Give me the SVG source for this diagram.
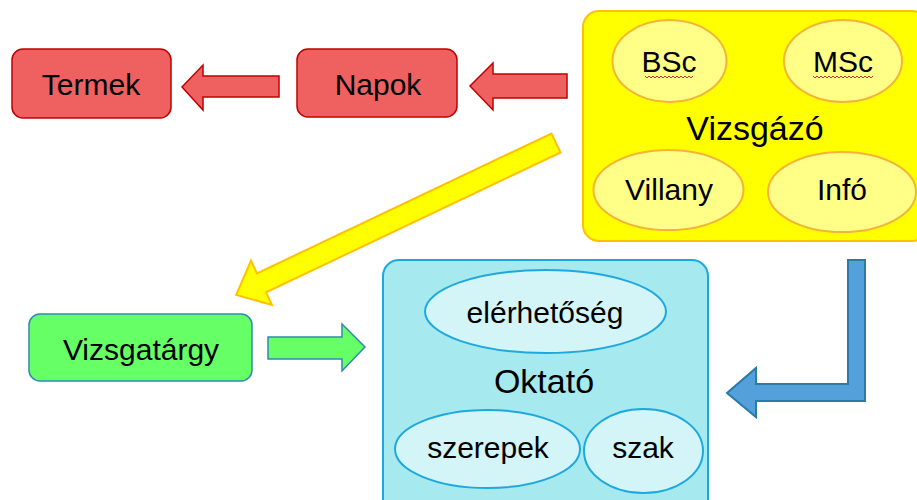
<svg xmlns="http://www.w3.org/2000/svg" width="917" height="500" viewBox="0 0 917 500">
<style>
text{font-family:"Liberation Sans",Arial,sans-serif;fill:#000;text-anchor:middle}
.lbl{font-size:30px}
.ttl{font-size:34px}
.red{fill:#EF6161;stroke:#C00000;stroke-width:1.5}
.yel{fill:#FFFF00;stroke:#FFC000;stroke-width:2}
.yell{fill:#FFFF88;stroke:#F4B43A;stroke-width:2}
.cyan{fill:#A6E9EE;stroke:#1EA8E0;stroke-width:2}
.cyanl{fill:#D3F5F7;stroke:#1EA8E0;stroke-width:2}
.grn{fill:#66FF66;stroke:#2E8AB0;stroke-width:1.5}
.blu{fill:#54A0DA;stroke:#2A7BA6;stroke-width:2}
.wavy{fill:none;stroke:#E03030;stroke-width:1}
</style>
<g id="connectors">
<polygon class="red" points="279,76 203,76 203,65 182,87 203,110 203,97 279,97"/>
<polygon class="red" points="567,74 493,74 493,63 470,86 493,110 493,98 567,98"/>
<polygon class="yel" transform="translate(556,143) rotate(154.6)" points="0,-10.5 326,-10.5 326,-24.5 354,0 326,24.5 326,10.5 0,10.5"/>
<polygon class="grn" points="268,337 342,337 342,324 365,347 342,371 342,359 268,359"/>
<polygon class="blu" points="848,260 865,260 865,401 756,401 756,417 727,393 756,368 756,384 848,384"/>
</g>
<g id="termek">
<rect class="red" x="12" y="49" width="159" height="69" rx="11"/>
<text class="lbl" x="91" y="95">Termek</text>
</g>
<g id="napok">
<rect class="red" x="297" y="49" width="160" height="68" rx="11"/>
<text class="lbl" x="378" y="95">Napok</text>
</g>
<g id="vizsgazo">
<rect class="yel" x="583" y="11" width="345" height="230" rx="16"/>
<text class="ttl" x="755" y="140">Vizsgázó</text>
</g>
<g id="bsc">
<ellipse class="yell" cx="669.5" cy="61" rx="57" ry="41"/>
<text class="lbl" x="669" y="72">BSc</text>
<path class="wavy" d="M645,76 l2,2 l2,-2 l2,2 l2,-2 l2,2 l2,-2 l2,2 l2,-2 l2,2 l2,-2 l2,2 l2,-2 l2,2 l2,-2 l2,2 l2,-2 l2,2 l2,-2 l2,2 l2,-2 l2,2 l2,-2 l2,2 l2,-2"/>
</g>
<g id="msc">
<ellipse class="yell" cx="843" cy="61" rx="59" ry="41"/>
<text class="lbl" x="843" y="72">MSc</text>
<path class="wavy" d="M813,76 l2,2 l2,-2 l2,2 l2,-2 l2,2 l2,-2 l2,2 l2,-2 l2,2 l2,-2 l2,2 l2,-2 l2,2 l2,-2 l2,2 l2,-2 l2,2 l2,-2 l2,2 l2,-2 l2,2 l2,-2 l2,2 l2,-2 l2,2 l2,-2 l2,2 l2,-2 l2,2 l2,-2"/>
</g>
<g id="villany">
<ellipse class="yell" cx="668.5" cy="190" rx="75" ry="40"/>
<text class="lbl" x="669" y="200">Villany</text>
</g>
<g id="info">
<ellipse class="yell" cx="842" cy="192" rx="74" ry="40"/>
<text class="lbl" x="842" y="200">Infó</text>
</g>
<g id="vizsgatargy">
<rect class="grn" x="29" y="314" width="223" height="67" rx="11"/>
<text class="lbl" x="141" y="360">Vizsgatárgy</text>
</g>
<g id="oktato">
<rect class="cyan" x="383" y="260" width="325" height="260" rx="16"/>
<text class="ttl" x="544" y="393">Oktató</text>
</g>
<g id="elerhetoseg">
<ellipse class="cyanl" cx="545.5" cy="311.5" rx="120.5" ry="41.5"/>
<text class="lbl" x="545" y="323">elérhetőség</text>
</g>
<g id="szerepek">
<ellipse class="cyanl" cx="487.5" cy="449" rx="92.5" ry="39"/>
<text class="lbl" x="488" y="458">szerepek</text>
</g>
<g id="szak">
<ellipse class="cyanl" cx="643.5" cy="451" rx="59.5" ry="42"/>
<text class="lbl" x="643" y="458">szak</text>
</g>
</svg>
